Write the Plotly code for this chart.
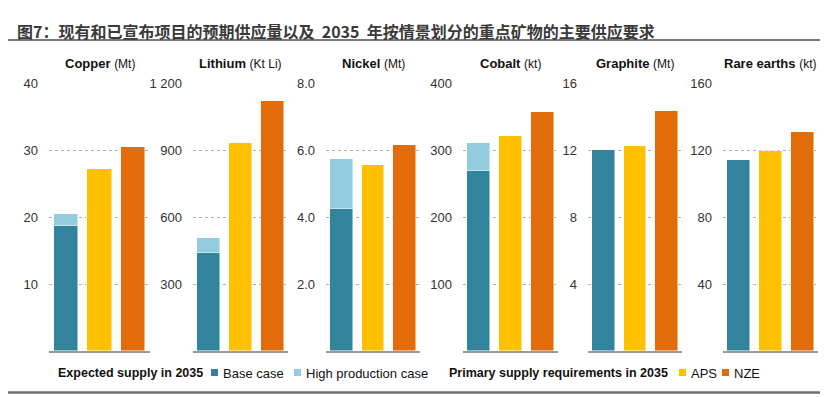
import plotly.graph_objects as go

# ---------------- data ----------------
minerals = ["Copper", "Lithium", "Nickel", "Cobalt", "Graphite", "Rare earths"]
units = ["(Mt)", "(Kt Li)", "(Mt)", "(kt)", "(Mt)", "(kt)"]
base_case = [18.6, 437, 4.25, 269, 12.0, 114]
high_production_case = [20.4, 505, 5.73, 310, None, None]
aps = [27.1, 933, 5.55, 321, 12.25, 119.5]
nze = [30.4, 1120, 6.15, 356, 14.3, 131]
axis_max = [40, 1200, 8, 400, 16, 160]
tick_values = [
    [10, 20, 30, 40],
    [300, 600, 900, 1200],
    [2, 4, 6, 8],
    [100, 200, 300, 400],
    [4, 8, 12, 16],
    [40, 80, 120, 160],
]
tick_labels = [
    ["10", "20", "30", "40"],
    ["300", "600", "900", "1 200"],
    ["2.0", "4.0", "6.0", "8.0"],
    ["100", "200", "300", "400"],
    ["4", "8", "12", "16"],
    ["40", "80", "120", "160"],
]
title_text = "图7：现有和已宣布项目的预期供应量以及  2035  年按情景划分的重点矿物的主要供应要求"

# ---------------- style ----------------
W, H = 828, 397
OFF = 8  # page body margin
C_BASE = "#31849c"
C_HIGH = "#93cddd"
C_APS = "#ffc000"
C_NZE = "#e36c0a"
FONT = "Liberation Sans, Arial, sans-serif"
TXT = "#333333"

panel_px = [(49, 150), (193, 288), (326, 420), (463, 558), (588, 682), (723, 818)]
y_bottom_px, y_top_px = 351, 83

def px_x(x):
    return (x - OFF) / W

def px_y(y):
    return (H - (y - OFF)) / H

fig = go.Figure()
BW = 0.73
EDGE = dict(color="rgba(255,255,255,0.6)", width=0.8)

for i, name in enumerate(minerals):
    n = "" if i == 0 else str(i + 1)
    xa, ya = "x" + n, "y" + n
    fig.add_trace(go.Bar(x=[0], y=[base_case[i]], marker=dict(color=C_BASE, line=EDGE),
                         width=BW, xaxis=xa, yaxis=ya, showlegend=False, name="Base case"))
    if high_production_case[i] is not None:
        fig.add_trace(go.Bar(x=[0], y=[high_production_case[i] - base_case[i]],
                             marker=dict(color=C_HIGH, line=EDGE),
                             width=BW, xaxis=xa, yaxis=ya, showlegend=False, name="High production case"))
    fig.add_trace(go.Bar(x=[1], y=[aps[i]], marker=dict(color=C_APS, line=EDGE),
                         width=BW, xaxis=xa, yaxis=ya, showlegend=False, name="APS"))
    fig.add_trace(go.Bar(x=[2], y=[nze[i]], marker=dict(color=C_NZE, line=EDGE),
                         width=BW, xaxis=xa, yaxis=ya, showlegend=False, name="NZE"))

    x0, x1 = panel_px[i]
    fig.update_layout(**{
        "xaxis" + n: dict(domain=[px_x(x0), px_x(x1)], range=[-0.5, 2.5], anchor=ya,
                          showticklabels=False, ticks="", showgrid=False, zeroline=False,
                          showline=True, linecolor="#9a9a9a", linewidth=1.5, automargin=False),
        "yaxis" + n: dict(domain=[px_y(y_bottom_px), px_y(y_top_px)], range=[0, axis_max[i]], anchor=xa,
                          tickvals=tick_values[i], ticktext=tick_labels[i], ticks="",
                          ticklabelstandoff=10, automargin=False,
                          tickfont=dict(family=FONT, size=13, color=TXT),
                          showgrid=True, gridcolor="#b0b0b0", griddash="dot", gridwidth=1,
                          zeroline=False, showline=False),
    })
    fig.add_annotation(xref="paper", yref="paper", x=px_x((x0 + x1) / 2), y=px_y(63),
                       xanchor="center", yanchor="middle", showarrow=False,
                       text=f"<b>{name}</b> <span style='font-size:12px'>{units[i]}</span>",
                       font=dict(family=FONT, size=13, color="#111111"))

# title
fig.add_annotation(xref="paper", yref="paper", x=px_x(15), y=px_y(31), xanchor="left", yanchor="middle",
                   showarrow=False, text="<b>" + title_text + "</b>",
                   font=dict(family="Noto Sans CJK SC", size=16, color="#3a3a3a"))
fig.add_shape(type="line", xref="paper", yref="paper", x0=0, x1=1, y0=px_y(40), y1=px_y(40),
              line=dict(color="#7a7a7a", width=2))
fig.add_shape(type="line", xref="paper", yref="paper", x0=0, x1=1, y0=px_y(392.5), y1=px_y(392.5),
              line=dict(color="#6e6e6e", width=2.5))

# legend (manual)
leg_y = 373
leg_items = [
    ("<b>Expected supply in 2035</b>", 56, None, 12.5),
    ("Base case", 221, C_BASE, 13),
    ("High production case", 304, C_HIGH, 13),
    ("<b>Primary supply requirements in 2035</b>", 447, None, 12.5),
    ("APS", 689, C_APS, 13),
    ("NZE", 732, C_NZE, 13),
]
for text, xs, col, fs in leg_items:
    fig.add_annotation(xref="paper", yref="paper", x=px_x(xs), y=px_y(leg_y), xanchor="left", yanchor="middle",
                       showarrow=False, text=text, font=dict(family=FONT, size=fs, color="#111111"))
    if col is not None:
        fig.add_shape(type="rect", xref="paper", yref="paper", x0=px_x(xs - 10), x1=px_x(xs - 3),
                      y0=px_y(leg_y + 3), y1=px_y(leg_y - 4), line=dict(width=0), fillcolor=col)

fig.update_layout(
    width=W, height=H, margin=dict(l=0, r=0, t=0, b=0),
    paper_bgcolor="white", plot_bgcolor="white",
    barmode="stack", bargap=0, showlegend=False,
)

fig.write_html("out.html")
